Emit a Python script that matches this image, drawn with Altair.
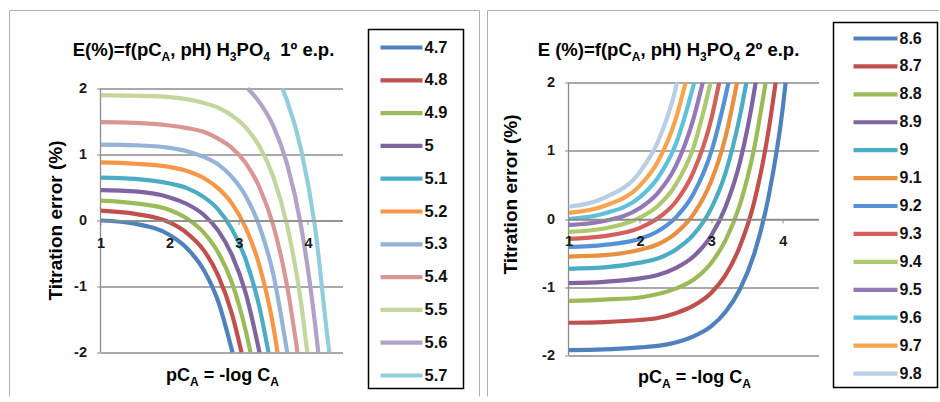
import altair as alt
import pandas as pd

N = None

# ---------------- left panel: 1st equivalence point ----------------
left_ph = ["4.7", "4.8", "4.9", "5", "5.1", "5.2", "5.3", "5.4", "5.5", "5.6", "5.7"]
left_colors = ["#4F81BD", "#C0504D", "#9BBB59", "#8064A2", "#4BACC6", "#F79646",
               "#95B3D7", "#D99694", "#C3D69B", "#B3A2C7", "#93CDDD"]
left_x = [1.0, 1.5, 2.0, 2.25, 2.5, 2.7, 2.9, 3.1, 3.3, 3.5, 3.7, 3.9, 4.1, 4.3]
e4_7 = [0.00, -0.05, -0.22, -0.42, -0.76, -1.22, -1.96, N, N, N, N, N, N, N]
e4_8 = [0.15, 0.10, -0.03, -0.19, -0.46, -0.83, -1.41, N, N, N, N, N, N, N]
e4_9 = [0.30, 0.26, 0.16, 0.03, -0.19, -0.48, -0.94, -1.67, N, N, N, N, N, N]
e5_0 = [0.46, 0.44, 0.35, 0.25, 0.08, -0.15, -0.52, -1.10, N, N, N, N, N, N]
e5_1 = [0.65, 0.63, 0.56, 0.49, 0.35, 0.17, -0.13, -0.59, -1.32, N, N, N, N, N]
e5_2 = [0.88, 0.86, 0.81, 0.75, 0.64, 0.49, 0.26, -0.11, -0.69, -1.61, N, N, N, N]
e5_3 = [1.15, 1.14, 1.10, 1.05, 0.96, 0.85, 0.66, 0.37, -0.09, -0.82, N, N, N, N]
e5_4 = [1.49, 1.48, 1.44, 1.40, 1.34, 1.24, 1.10, 0.87, 0.50, -0.08, -1.00, N, N, N]
e5_5 = [1.90, 1.89, 1.87, 1.84, 1.78, 1.71, 1.59, 1.41, 1.12, 0.66, -0.08, -1.24, N, N]
e5_6 = [N, N, N, N, N, N, N, N, 1.79, 1.43, 0.85, -0.08, -1.54, N]
e5_7 = [N, N, N, N, N, N, N, N, N, N, 1.81, 1.08, -0.08, -1.92]
left_series = [e4_7, e4_8, e4_9, e5_0, e5_1, e5_2, e5_3, e5_4, e5_5, e5_6, e5_7]
left_x_enter_top = [N, N, N, N, N, N, N, N, N, 3.13, 3.63]      # where E = 2
left_x_exit_bottom = [2.91, 3.04, 3.17, 3.30, 3.43, 3.56, 3.70, 3.85, 3.99, 4.15, 4.31]  # E = -2

# ---------------- right panel: 2nd equivalence point ----------------
right_ph = ["8.6", "8.7", "8.8", "8.9", "9", "9.1", "9.2", "9.3", "9.4", "9.5", "9.6", "9.7", "9.8"]
right_colors = ["#4F81BD", "#C0504D", "#9BBB59", "#8064A2", "#4BACC6", "#E8903F",
                "#5592D5", "#D4605C", "#ACC96E", "#9479B8", "#5EC0DB", "#F9A34F", "#B9CDE5"]
right_x = [1.0, 1.5, 2.0, 2.25, 2.5, 2.75, 3.0, 3.2, 3.4, 3.6, 3.8, 4.0]
e8_6 = [-1.92, -1.91, -1.88, -1.86, -1.81, -1.72, -1.57, -1.36, -1.03, -0.51, 0.32, 1.63]
e8_7 = [-1.52, -1.51, -1.48, -1.45, -1.38, -1.27, -1.08, -0.82, -0.40, 0.25, 1.29, N]
e8_8 = [-1.20, -1.18, -1.15, -1.10, -1.02, -0.89, -0.64, -0.31, 0.21, 1.04, N, N]
e8_9 = [-0.94, -0.92, -0.87, -0.82, -0.72, -0.55, -0.24, 0.18, 0.83, 1.87, N, N]
e9_0 = [-0.73, -0.71, -0.64, -0.58, -0.45, -0.23, 0.16, 0.68, 1.51, N, N, N]
e9_1 = [-0.55, -0.53, -0.45, -0.37, -0.21, 0.07, 0.56, 1.21, N, N, N, N]
e9_2 = [-0.41, -0.38, -0.29, -0.18, 0.02, 0.37, 0.99, 1.81, N, N, N, N]
e9_3 = [-0.29, -0.25, -0.13, 0.01, 0.25, 0.69, 1.47, N, N, N, N, N]
e9_4 = [-0.19, -0.14, 0.02, 0.19, 0.50, 1.05, N, N, N, N, N, N]
e9_5 = [-0.09, -0.03, 0.16, 0.38, 0.77, 1.47, N, N, N, N, N, N]
e9_6 = [0.00, 0.08, 0.32, 0.60, 1.09, 1.96, N, N, N, N, N, N]
e9_7 = [0.09, 0.19, 0.49, 0.84, 1.46, N, N, N, N, N, N, N]
e9_8 = [0.18, 0.31, 0.69, 1.13, 1.91, N, N, N, N, N, N, N]
right_series = [e8_6, e8_7, e8_8, e8_9, e9_0, e9_1, e9_2, e9_3, e9_4, e9_5, e9_6, e9_7, e9_8]
right_x_exit_top = [4.04, 3.90, 3.76, 3.62, 3.49, 3.36, 3.24, 3.11, 2.99, 2.88, 2.76, 2.64, 2.52]  # E = 2

y_ticks = [-2, -1, 0, 1, 2]
x_ticks = [1, 2, 3, 4]

# ---------------- helpers ----------------
FONT = "Liberation Sans"
GRID = "#8C8C8C"
FRAME = "#B0B0B0"
# Arial/Liberation Sans Bold advance widths (per 1000 em) for text layout
AW = {" ": 278, "(": 333, ")": 333, "%": 889, "=": 584, ",": 278, ".": 278, "-": 333,
      "1": 556, "2": 556, "3": 556, "4": 556, "º": 365, "A": 722, "C": 722, "E": 667,
      "H": 722, "O": 778, "P": 667, "e": 556, "f": 333, "g": 611, "l": 278, "o": 611, "p": 611}


def tw(s, size):
    return sum(AW[c] for c in s) * size / 1000.0


def curve_frame(names, xs, series, starts, ends, y_start, y_end):
    rows = []
    for name, ys, xs0, xe in zip(names, series, starts, ends):
        if xs0 is not None:
            rows.append((name, xs0, y_start))
        for x, y in zip(xs, ys):
            if y is not None:
                rows.append((name, x, y))
        if xe is not None:
            rows.append((name, xe, y_end))
    return pd.DataFrame(rows, columns=["pH", "pC", "E"])


def one():
    return alt.Data(values=[{}])


def text_layer(s, x, y, size, align="left", baseline="alphabetic", angle=0):
    return alt.Chart(one()).mark_text(
        text=s, font=FONT, fontWeight="bold", fontSize=size, align=align,
        baseline=baseline, angle=angle, color="#000000"
    ).encode(x=alt.value(x), y=alt.value(y))


def rich(pieces, cx, base, size, subsize, subdy):
    widths = [tw(t, subsize if sub else size) for t, sub in pieces]
    x = cx - sum(widths) / 2.0
    layers = []
    for (t, sub), w in zip(pieces, widths):
        fs = subsize if sub else size
        lead = len(t) - len(t.lstrip(" "))
        layers.append(text_layer(t.strip(" "), x + lead * AW[" "] * fs / 1000.0,
                                 base + (subdy if sub else 0), fs))
        x += w
    return layers


def vrule(x, y1, y2, color=FRAME, w=1):
    return alt.Chart(one()).mark_rule(color=color, strokeWidth=w).encode(
        x=alt.value(x), y=alt.value(y1), y2=alt.value(y2))


def hrule(x1, x2, y, color=FRAME, w=1):
    return alt.Chart(one()).mark_rule(color=color, strokeWidth=w).encode(
        x=alt.value(x1), x2=alt.value(x2), y=alt.value(y))


def panel(names, colors, df, width, height, ydom, xoff, xlabpad, title_pieces, tcx,
          ytx, yty, xtcx, xtbase, box, lx1, lx2, ltx, ly0, ldy, lfs, frames):
    cscale = alt.Scale(domain=names, range=colors)
    yaxis_rule = alt.Chart(one()).mark_rule(color=GRID, strokeWidth=1.3).encode(
        x=alt.value(0), y=alt.Y(datum=-2), y2=alt.Y2(datum=2))
    lines = alt.Chart(df).mark_line(interpolate="monotone", strokeWidth=4.2, clip=True).encode(
        x=alt.X("pC:Q", scale=alt.Scale(domain=[1, 4.5], nice=False, zero=False),
                axis=alt.Axis(values=x_ticks, offset=xoff, grid=False, title=None,
                              domainColor=GRID, domainWidth=1.3, tickSize=4, tickColor=GRID,
                              labelPadding=xlabpad, labelFont=FONT, labelFontWeight="bold",
                              labelFontSize=14.5, labelColor="#1A1A1A", labelFlush=False,
                              zindex=1)),
        y=alt.Y("E:Q", scale=alt.Scale(domain=ydom, nice=False, zero=False),
                axis=alt.Axis(values=y_ticks, grid=True, gridColor=GRID, gridWidth=1.3,
                              domain=False, title=None, tickSize=4, tickColor=GRID,
                              labelPadding=10, labelFont=FONT, labelFontWeight="bold",
                              labelFontSize=14.5, labelColor="#1A1A1A",
                              labelExpr="datum.value < 0 ? '-' + abs(datum.value) : '' + datum.value")),
        color=alt.Color("pH:N", scale=cscale, legend=None),
        order=alt.Order("pC:Q"),
    )
    leg_df = pd.DataFrame({"pH": names, "ly": [ly0 + i * ldy for i in range(len(names))]})
    leg_box = alt.Chart(one()).mark_rect(fill="white", stroke="#000000", strokeWidth=1.5).encode(
        x=alt.value(box[0]), x2=alt.value(box[1]), y=alt.value(box[2]), y2=alt.value(box[3]))
    leg_lines = alt.Chart(leg_df).mark_rule(strokeWidth=4.2).encode(
        x=alt.value(lx1), x2=alt.value(lx2),
        y=alt.Y("ly:Q", scale=None, axis=None),
        color=alt.Color("pH:N", scale=cscale, legend=None))
    leg_text = alt.Chart(leg_df).mark_text(
        align="left", baseline="middle", font=FONT, fontWeight="bold", fontSize=lfs,
        color="#111111").encode(
        x=alt.value(ltx), y=alt.Y("ly:Q", scale=None, axis=None), text="pH:N")
    layers = list(frames) + [leg_box, yaxis_rule, lines, leg_lines, leg_text]
    layers += rich(title_pieces, tcx, -27, 18.5, 12, 5)
    layers += rich([("pC", 0), ("A", 1), (" = -log C", 0), ("A", 1)], xtcx, xtbase, 18, 12, 5)
    layers.append(text_layer("Titration error (%)", ytx, yty, 19, align="center",
                             baseline="middle", angle=270))
    return alt.layer(*layers).properties(width=width, height=height)


left_df = curve_frame(left_ph, left_x, left_series, left_x_enter_top, left_x_exit_bottom, 2, -2)
right_df = curve_frame(right_ph, right_x, right_series, [N] * len(right_ph), right_x_exit_top, N, 2)

left_frames = [vrule(-91, -72, 314), hrule(-91, 379, -72), vrule(379, -72, 314)]
right_frames = [vrule(-81, -72, 314), hrule(-81, 370, -72)]

left = panel(
    left_ph, left_colors, left_df, 242, 270, [-2, 2.0909], -132, 12,
    [("E(%)=f(pC", 0), ("A", 1), (", pH) H", 0), ("3", 1), ("PO", 0), ("4", 1), ("  1º e.p.", 0)],
    103, -45, 138, 122, 298, (268, 363, -53, 306), 280, 322, 324, -35, 32.8, 16.5, left_frames)

right = panel(
    right_ph, right_colors, right_df, 250, 273, [-2, 2], -136.5, 11,
    [("E (%)=f(pC", 0), ("A", 1), (", pH) H", 0), ("3", 1), ("PO", 0), ("4", 1), (" 2º e.p.", 0)],
    100, -58, 112, 126, 300, (265, 369, -60, 305), 285, 329, 331, -44, 27.92, 16, right_frames)

chart = alt.hconcat(left, right, spacing=226, bounds="flush").resolve_scale(
    color="independent"
).properties(
    padding={"left": 8.5, "top": 9.5, "right": 0, "bottom": 0}
).configure(background="white").configure_view(stroke=None)

chart.save("out.html", embed_options={"renderer": "svg", "actions": False})
